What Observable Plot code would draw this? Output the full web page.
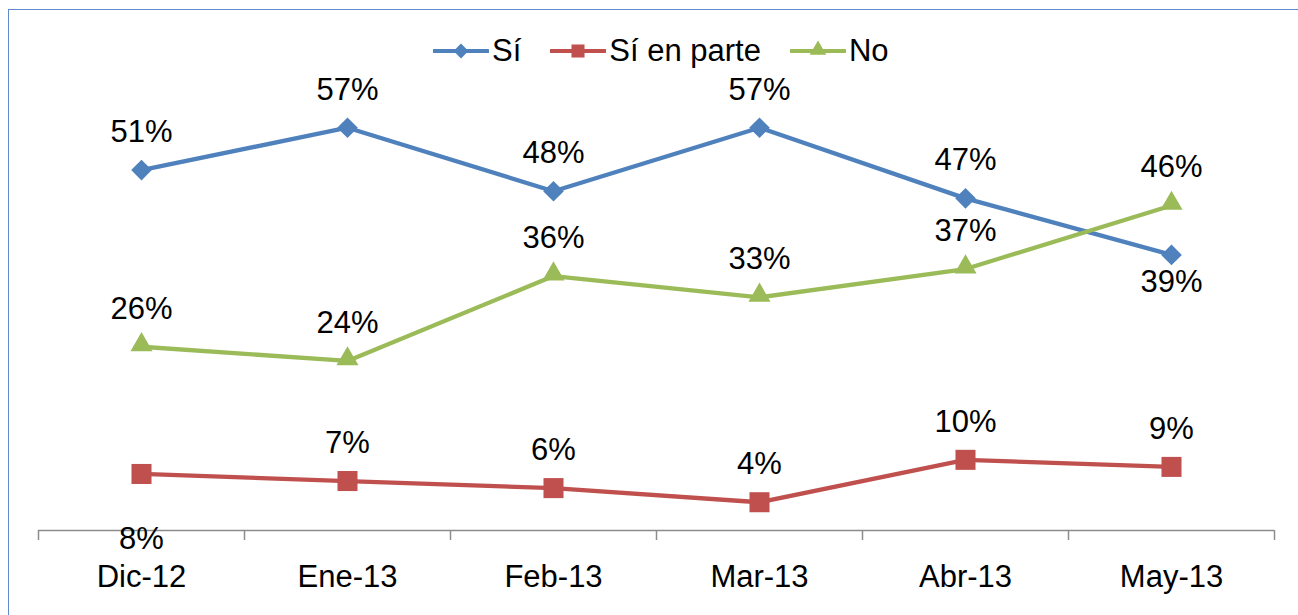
<!DOCTYPE html>
<html>
<head>
<meta charset="utf-8">
<script src="https://cdn.jsdelivr.net/npm/d3@7"></script>
<script src="https://cdn.jsdelivr.net/npm/@observablehq/plot@0.6"></script>
<style>
  html, body { margin: 0; padding: 0; background: #fff; overflow: hidden; }
  #wrap { position: relative; width: 1298px; height: 615px; font-family: "Liberation Sans", Arial, sans-serif; }
  #frame { position: absolute; left: 8px; top: 9px; width: 1400px; height: 700px;
           border-left: 1.5px solid #5F8ACB; border-top: 1.5px solid #5F8ACB; pointer-events: none; }
  #legend { position: absolute; top: 35px; left: 433px; display: flex; align-items: center; gap: 29px;
            font-size: 31px; color: #000; }
  .item { display: flex; align-items: center; }
  .item span { margin-left: 3px; line-height: 1; }
  #chart { position: absolute; left: 0; top: 0; }
</style>
</head>
<body>
<div id="wrap">
  <div id="chart"></div>
  <div id="frame"></div>
  <div id="legend"></div>
</div>
<script>
// ---- data ----
const months = ["Dic-12", "Ene-13", "Feb-13", "Mar-13", "Abr-13", "May-13"];
const seriesNames = ["Sí", "Sí en parte", "No"];
const si = [51, 57, 48, 57, 47, 39];
const siEnParte = [8, 7, 6, 4, 10, 9];
const no = [26, 24, 36, 33, 37, 46];

// ---- styles ----
const colors = ["#4F81BD", "#C0504D", "#9BBB59"];
const symbols = ["diamond2", "square", "triangle"];
const radii = [9.3, 11.3, 8.2];
// label placement: "above" default; a few labels sit below their point
const labelBelow = { "Sí": {5: 27}, "Sí en parte": {0: 65} };

const values = [si, siEnParte, no];
const data = [];
seriesNames.forEach((s, k) => {
  values[k].forEach((v, i) => {
    const below = labelBelow[s] && labelBelow[s][i];
    data.push({series: s, i, month: months[i], value: v, dy: below ? below : -38});
  });
});

const boundaries = d3.range(-0.5, months.length, 1);

const marks = [
  Plot.ruleY([0], {stroke: "#8C8C8C", strokeWidth: 1.5}),
  Plot.axisX({ticks: boundaries, tickSize: 10, tickFormat: () => "", stroke: "#8C8C8C", strokeWidth: 1.5, label: null}),
  Plot.axisX({ticks: d3.range(months.length), tickSize: 0, tickPadding: 34, tickFormat: i => months[i], fill: "#000", fontSize: 31, label: null}),
  Plot.line(data, {x: "i", y: "value", z: "series", stroke: d => colors[seriesNames.indexOf(d.series)], strokeWidth: 4.3, strokeLinejoin: "round", strokeLinecap: "round"})
];
seriesNames.forEach((s, k) => {
  marks.push(Plot.dot(data.filter(d => d.series === s), {
    x: "i", y: "value", symbol: () => symbols[k], fill: colors[k], stroke: "none", r: radii[k],
    dy: s === "No" ? -2 : 0
  }));
});
for (const [dy, rows] of d3.group(data, d => d.dy)) {
  marks.push(Plot.text(rows, {x: "i", y: "value", text: d => d.value + "%", dy, fill: "#000", fontSize: 31}));
}

const plot = Plot.plot({
  width: 1298,
  height: 615,
  marginLeft: 38,
  marginRight: 24,
  marginTop: 106,
  marginBottom: 85,
  style: {fontFamily: "'Liberation Sans', Arial, sans-serif", fontSize: "31px", background: "transparent", overflow: "visible"},
  x: {type: "linear", domain: [-0.5, months.length - 0.5], axis: null},
  y: {domain: [0, 60], axis: null},
  symbol: {type: "identity"},
  marks
});
document.getElementById("chart").appendChild(plot);

// ---- legend ----
const legend = d3.select("#legend");
seriesNames.forEach((s, k) => {
  const item = legend.append("div").attr("class", "item");
  const svg = item.append("svg").attr("width", 56).attr("height", 22);
  svg.append("line").attr("x1", 1).attr("x2", 55).attr("y1", 11).attr("y2", 11)
     .attr("stroke", colors[k]).attr("stroke-width", 4).attr("stroke-linecap", "round");
  const sym = k === 0 ? d3.symbolDiamond2 : k === 1 ? d3.symbolSquare : d3.symbolTriangle;
  const size = k === 0 ? 140 : k === 1 ? 170 : 120;
  svg.append("path").attr("d", d3.symbol(sym, size)()).attr("transform", `translate(28,${k === 2 ? 10 : 11})`)
     .attr("fill", colors[k]);
  item.append("span").text(s);
});
</script>
</body>
</html>
